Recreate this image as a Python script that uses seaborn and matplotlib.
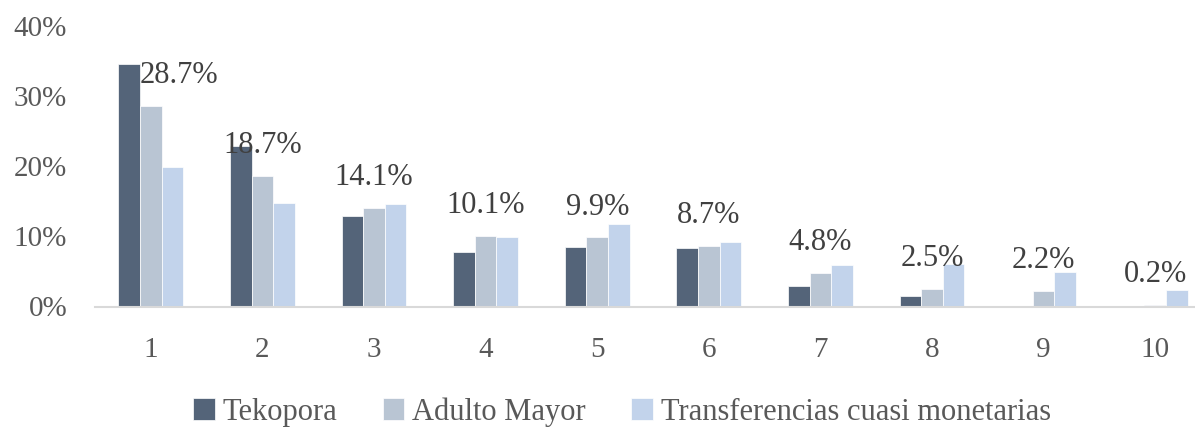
import pandas as pd
import seaborn as sns
from matplotlib import pyplot as plt
from matplotlib.ticker import FuncFormatter

# datos (porcentajes por decil)
deciles = ['1', '2', '3', '4', '5', '6', '7', '8', '9', '10']
tekopora = [34.6, 22.9, 13.0, 7.8, 8.5, 8.3, 3.0, 1.5, 0.1, 0.0]
adulto_mayor = [28.7, 18.7, 14.1, 10.1, 9.9, 8.7, 4.8, 2.5, 2.2, 0.2]
transferencias = [19.9, 14.8, 14.6, 10.0, 11.8, 9.2, 5.9, 6.1, 5.0, 2.3]
series = ['Tekopora', 'Adulto Mayor', 'Transferencias cuasi monetarias']
colores = ['#546479', '#B9C5D3', '#C2D3EB']

# tabla larga para seaborn
df = pd.DataFrame({
    'decil': deciles * 3,
    'valor': tekopora + adulto_mayor + transferencias,
    'serie': [series[0]] * 10 + [series[1]] * 10 + [series[2]] * 10,
})

sns.set_style('white')
plt.rcParams['font.family'] = ['Liberation Serif', 'DejaVu Serif']

fig = plt.figure(figsize=(11.95, 4.29), dpi=100)
ax = fig.add_axes([95 / 1195, 1 - 306.5 / 429, 1116 / 1195, 280 / 429])

sns.barplot(data=df, x='decil', y='valor', hue='serie', order=deciles,
            hue_order=series, palette=colores, width=0.58, ax=ax,
            edgecolor='white', linewidth=0.5, saturation=1)

# etiquetas de datos sobre Adulto Mayor
for i, v in enumerate(adulto_mayor):
    dx = 0.25 if i == 0 else 0
    ax.text(i + dx, v + 4.3, f'{v:.1f}%', ha='center', va='center',
            fontsize=22, color='#404040')

ax.set_xlim(-0.5, 9.5)
ax.set_ylim(0, 40)
ax.set_yticks([0, 10, 20, 30, 40])
ax.yaxis.set_major_formatter(FuncFormatter(lambda v, p: f'{v:.0f}%'))
ax.set_xlabel('')
ax.set_ylabel('')
ax.tick_params(axis='y', length=0, pad=20, labelsize=21, labelcolor='#595959')
ax.tick_params(axis='x', length=0, pad=22, labelsize=21, labelcolor='#595959')

for s in ['top', 'right', 'left']:
    ax.spines[s].set_visible(False)
ax.spines['bottom'].set_color('#D9D9D9')
ax.spines['bottom'].set_linewidth(1.5)

ax.legend(loc='center', bbox_to_anchor=(622 / 1195, 17 / 429),
          bbox_transform=fig.transFigure, ncol=3, frameon=False,
          fontsize=22, labelcolor='#595959', handlelength=0.7,
          handleheight=0.7, handletextpad=0.25, columnspacing=1.5)

plt.savefig('out.png', dpi=100)
